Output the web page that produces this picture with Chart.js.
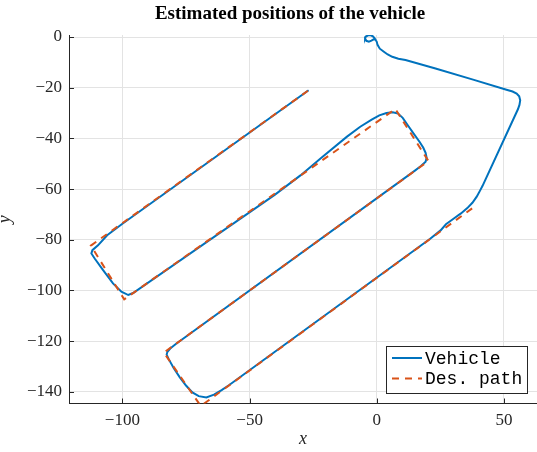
<!DOCTYPE html>
<html>
<head>
<meta charset="utf-8">
<script src="https://cdn.jsdelivr.net/npm/chart.js@4.4.0/dist/chart.umd.min.js"></script>
<style>
  html, body { margin: 0; padding: 0; background: #fff; }
  #wrap { width: 537px; height: 452px; }
</style>
</head>
<body>
<div id="wrap"><canvas id="pathChart" width="537" height="452"></canvas></div>
<script>
// vehicle track
const vehicleX = [
  -0.3, -0.9, -1.5, -2.4, -3.4, -4.3, -4.6, -4.1, -3.1, -2.1, -1.2, -0.5, 0.0, 0.3, 1.2, 2.8, 4.3, 6.1, 8.5, 11.3,
  23.1, 38.2, 51.0, 53.4, 55.0, 56.0, 56.4, 56.1, 55.5,
  41.6, 40.6, 39.3, 37.6, 35.6, 33.1, 30.3, 27.2, 25.1, 21.0,
  -58.0, -61.0, -64.0, -67.0, -70.0, -72.5, -75.0, -77.5, -79.8, -81.8, -82.6, -82.3, -81.2, -79.0,
  15.0, 17.5, 19.2, 19.6, 19.2, 18.3, 16.8, 14.5, 12.2, 10.2, 8.4, 6.3, 3.8, 1.0, -2.0, -6.5, -11.7, -22.0, -30.0, -40.0,
  -95.8, -97.7, -100.4, -103.7, -107.6, -110.9, -112.2, -111.8, -109.6, -106.0, -100.0,
  -26.8
];
const vehicleY = [
  -1.4, -0.4, 0.3, 0.7, 0.7, 0.2, -0.6, -1.5, -1.8, -1.4, -0.9, -1.0, -1.9, -3.1, -4.6, -5.8, -6.9, -7.8, -8.6, -9.1,
  -12.4, -16.9, -20.8, -21.5, -22.3, -23.4, -25.0, -26.8, -28.5,
  -58.7, -60.6, -63.0, -65.4, -67.5, -69.6, -71.6, -73.9, -76.3, -79.6,
  -137.3, -139.3, -141.1, -142.2, -141.7, -140.2, -137.5, -134.2, -130.7, -127.1, -125.3, -124.2, -122.9, -121.1,
  -52.7, -50.8, -49.2, -47.6, -45.7, -43.7, -41.3, -38.1, -34.8, -31.9, -30.2, -29.7, -30.0, -30.9, -32.6, -35.4, -39.3, -47.8, -54.6, -62.2,
  -101.0, -101.8, -100.5, -97.2, -92.0, -87.4, -85.4, -84.1, -82.2, -78.2, -73.7,
  -21.0
];

// desired path waypoints
const desiredX = [37.5, -69.2, -83.7, 20.3, 7.3, -99.3, -112.4, -26.8];
const desiredY = [-67.6, -145.6, -124.5, -48.9, -28.4, -103.5, -82.3, -21.0];

const seriesNames = ['Vehicle', 'Des. path'];
const titleText = 'Estimated positions of the vehicle';

const toPoints = (xs, ys) => xs.map((x, i) => ({ x: x, y: ys[i] }));
const minus = v => String(v).replace('-', '\u2212');
const axisColor = '#262626';
const gridColor = '#e3e3e3';

const extras = {
  id: 'extras',
  afterDraw(chart) {
    const ctx = chart.ctx;
    const xs = chart.scales.x, ys = chart.scales.y;
    const area = chart.chartArea;
    ctx.save();
    // inward tick marks
    ctx.strokeStyle = axisColor;
    ctx.lineWidth = 1;
    ctx.beginPath();
    xs.ticks.forEach(t => {
      const px = Math.round(xs.getPixelForValue(t.value)) + 0.5;
      ctx.moveTo(px, area.bottom);
      ctx.lineTo(px, area.bottom - 5);
    });
    ys.ticks.forEach(t => {
      const py = Math.round(ys.getPixelForValue(t.value)) + 0.5;
      ctx.moveTo(area.left, py);
      ctx.lineTo(area.left + 5, py);
    });
    ctx.stroke();

    // title
    ctx.fillStyle = '#000';
    ctx.font = 'bold 19px "Liberation Serif"';
    ctx.textAlign = 'center';
    ctx.textBaseline = 'alphabetic';
    ctx.fillText(titleText, 290, 18.5);

    // legend
    const bx = 386.5, by = 346.5, bw = 141, bh = 47;
    ctx.fillStyle = '#fff';
    ctx.fillRect(bx, by, bw, bh);
    ctx.strokeStyle = axisColor;
    ctx.strokeRect(bx, by, bw, bh);
    ctx.font = '18px "Liberation Mono"';
    ctx.textAlign = 'left';
    ctx.textBaseline = 'middle';
    const rows = [358, 378.5];
    chart.data.datasets.forEach((ds, i) => {
      ctx.strokeStyle = ds.borderColor;
      ctx.lineWidth = ds.borderWidth;
      ctx.setLineDash(ds.borderDash || []);
      ctx.beginPath();
      ctx.moveTo(392, rows[i]);
      ctx.lineTo(422, rows[i]);
      ctx.stroke();
      ctx.setLineDash([]);
      ctx.fillStyle = '#000';
      ctx.fillText(ds.label, 425, rows[i] + 1);
    });
    ctx.restore();
  }
};

new Chart(document.getElementById('pathChart'), {
  type: 'scatter',
  data: {
    datasets: [{
      label: seriesNames[0],
      data: toPoints(vehicleX, vehicleY),
      showLine: true,
      borderColor: '#0072BD',
      borderWidth: 2,
      pointRadius: 0,
      tension: 0,
      order: 2
    }, {
      label: seriesNames[1],
      data: toPoints(desiredX, desiredY),
      showLine: true,
      borderColor: '#D95319',
      borderWidth: 2,
      borderDash: [7, 6],
      pointRadius: 0,
      tension: 0,
      order: 1
    }]
  },
  options: {
    responsive: false,
    animation: false,
    devicePixelRatio: 1,
    layout: { padding: { top: 35, right: 0, bottom: 0, left: 0 } },
    plugins: {
      legend: { display: false },
      title: { display: false },
      tooltip: { enabled: false }
    },
    scales: {
      x: {
        type: 'linear',
        min: -121,
        max: 63,
        ticks: {
          stepSize: 50,
          includeBounds: false,
          color: axisColor,
          padding: 7,
          maxRotation: 0,
          font: { family: 'Liberation Serif', size: 17 },
          callback: v => minus(v)
        },
        grid: { color: gridColor, drawTicks: false },
        border: { color: axisColor, width: 1 },
        title: {
          display: true,
          text: 'x',
          color: axisColor,
          font: { family: 'Liberation Serif', size: 18, style: 'italic', lineHeight: 1.2 },
          padding: { top: 0, bottom: 2 }
        },
        afterFit: s => { s.height = 48.5; }
      },
      y: {
        type: 'linear',
        min: -144.6,
        max: 0.8,
        ticks: {
          stepSize: 20,
          includeBounds: false,
          color: axisColor,
          padding: 7,
          font: { family: 'Liberation Serif', size: 17 },
          callback: v => minus(v)
        },
        grid: { color: gridColor, drawTicks: false },
        border: { color: axisColor, width: 1 },
        title: {
          display: true,
          text: 'y',
          color: axisColor,
          font: { family: 'Liberation Serif', size: 18, style: 'italic', lineHeight: 1 },
          padding: { top: -4, bottom: 0 }
        },
        afterFit: s => { s.width = 69; }
      }
    }
  },
  plugins: [extras]
});
</script>
</body>
</html>
